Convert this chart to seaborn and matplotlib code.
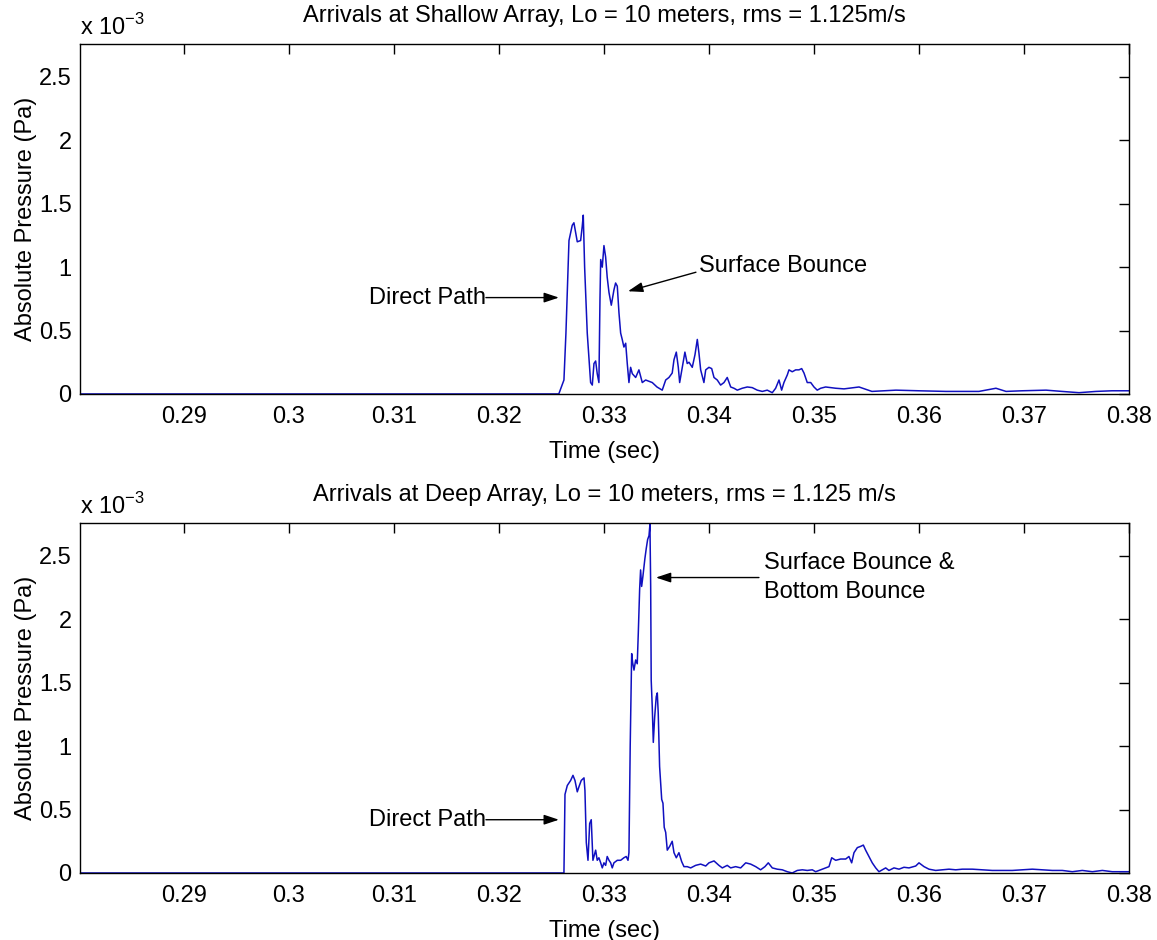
import matplotlib
matplotlib.use("Agg")
import matplotlib.pyplot as plt
import seaborn as sns
import pandas as pd

# ---------------- data (pressure in units of 1e-3 Pa) ----------------
shallow_t = [0.2801, 0.3000, 0.3200, 0.3257, 0.32619, 0.32638, 0.32667, 0.32698, 0.32714,
             0.32746, 0.32778, 0.32793, 0.32803, 0.32816, 0.32841, 0.32873, 0.32889,
             0.32905, 0.32921, 0.32936, 0.32952, 0.32962, 0.32969, 0.32984, 0.33000,
             0.33016, 0.33031, 0.33048, 0.33070, 0.33095, 0.33111, 0.33127, 0.33143,
             0.33159, 0.33174, 0.33190, 0.33207, 0.33222, 0.33238, 0.33254, 0.33270,
             0.33302, 0.33333, 0.33365, 0.33397, 0.33460, 0.33505, 0.33555, 0.33588,
             0.33619, 0.33650, 0.33667, 0.33689, 0.33708, 0.33721, 0.33746, 0.33771,
             0.33793, 0.33810, 0.33841, 0.33867, 0.33889, 0.33905, 0.33921, 0.33952,
             0.33969, 0.34000, 0.34026, 0.34048, 0.34079, 0.34111, 0.34143, 0.34174,
             0.34207, 0.34238, 0.34270, 0.34317, 0.34365, 0.34412, 0.34460, 0.34508,
             0.34555, 0.34603, 0.34635, 0.34667, 0.34692, 0.34714, 0.34746, 0.34762,
             0.34793, 0.34826, 0.34857, 0.34883, 0.34905, 0.34936, 0.34969, 0.35000,
             0.35031, 0.35064, 0.35111, 0.35159, 0.35207, 0.35286, 0.35429, 0.35552,
             0.35781, 0.36000, 0.36257, 0.36571, 0.36733, 0.36829, 0.36981, 0.37210,
             0.37362, 0.37524, 0.37686, 0.37838, 0.38000]
shallow_p = [0.0, 0.0, 0.0, 0.0, 0.11, 0.48, 1.21, 1.33, 1.35,
             1.20, 1.21, 1.32, 1.41, 1.00, 0.48, 0.09, 0.07,
             0.24, 0.26, 0.16, 0.09, 0.74, 1.06, 1.00, 1.17,
             1.08, 0.92, 0.80, 0.70, 0.82, 0.875, 0.85, 0.64,
             0.48, 0.43, 0.37, 0.40, 0.24, 0.09, 0.21, 0.16,
             0.13, 0.19, 0.09, 0.11, 0.09, 0.055, 0.03, 0.11,
             0.13, 0.165, 0.27, 0.33, 0.21, 0.09, 0.21, 0.33,
             0.24, 0.25, 0.21, 0.31, 0.43, 0.32, 0.19, 0.09,
             0.19, 0.21, 0.20, 0.13, 0.11, 0.07, 0.09, 0.13,
             0.055, 0.045, 0.03, 0.045, 0.055, 0.05, 0.03, 0.02,
             0.03, 0.01, 0.045, 0.11, 0.03, 0.09, 0.15, 0.19,
             0.175, 0.19, 0.19, 0.20, 0.165, 0.09, 0.09, 0.055,
             0.03, 0.045, 0.055, 0.05, 0.045, 0.04, 0.055, 0.02,
             0.03, 0.025, 0.02, 0.02, 0.045, 0.02, 0.025, 0.03,
             0.02, 0.01, 0.02, 0.025, 0.025]

deep_t = [0.2801, 0.3000, 0.3200, 0.32619, 0.32624, 0.32629, 0.32651, 0.32683, 0.32705,
          0.32724, 0.32746, 0.32762, 0.32784, 0.32810, 0.32819, 0.32832, 0.32848,
          0.32864, 0.32879, 0.32895, 0.32921, 0.32936, 0.32952, 0.32969, 0.32984,
          0.33000, 0.33016, 0.33031, 0.33048, 0.33064, 0.33079, 0.33095, 0.33127,
          0.33159, 0.33190, 0.33212, 0.33229, 0.33238, 0.33250, 0.33264, 0.33273,
          0.33286, 0.33302, 0.33317, 0.33327, 0.33340, 0.33349, 0.33359, 0.33371,
          0.33390, 0.33403, 0.33416, 0.33429, 0.33438, 0.33445, 0.33450, 0.33460,
          0.33470, 0.33483, 0.33498, 0.33508, 0.33517, 0.33530, 0.33550, 0.33562,
          0.33574, 0.33588, 0.33603, 0.33626, 0.33650, 0.33667, 0.33689, 0.33714,
          0.33740, 0.33762, 0.33793, 0.33826, 0.33873, 0.33921, 0.33969, 0.34000,
          0.34048, 0.34095, 0.34127, 0.34174, 0.34207, 0.34254, 0.34302, 0.34350,
          0.34397, 0.34445, 0.34492, 0.34533, 0.34565, 0.34603, 0.34650, 0.34698,
          0.34746, 0.34793, 0.34841, 0.34889, 0.34936, 0.34984, 0.35016, 0.35064,
          0.35111, 0.35143, 0.35169, 0.35207, 0.35254, 0.35302, 0.35333, 0.35359,
          0.35381, 0.35413, 0.35445, 0.35470, 0.35492, 0.35524, 0.35555, 0.35588,
          0.35619, 0.35650, 0.35683, 0.35714, 0.35762, 0.35810, 0.35857, 0.35905,
          0.35969, 0.36000, 0.36048, 0.36095, 0.36159, 0.36222, 0.36286, 0.36350,
          0.36413, 0.36508, 0.36603, 0.36698, 0.36794, 0.36889, 0.36984, 0.37079,
          0.37175, 0.37270, 0.37365, 0.37460, 0.37555, 0.37651, 0.37746, 0.37841,
          0.37984, 0.38000]
deep_p = [0.0, 0.0, 0.0, 0.0, 0.30, 0.62, 0.69, 0.73, 0.77,
          0.73, 0.64, 0.68, 0.73, 0.75, 0.65, 0.24, 0.10,
          0.39, 0.42, 0.10, 0.18, 0.10, 0.12, 0.08, 0.04,
          0.08, 0.06, 0.13, 0.10, 0.08, 0.04, 0.08, 0.10,
          0.10, 0.12, 0.13, 0.10, 0.16, 1.00, 1.73, 1.66,
          1.60, 1.68, 1.65, 1.89, 2.24, 2.39, 2.26, 2.34,
          2.48, 2.56, 2.63, 2.66, 2.75, 2.26, 1.52, 1.31,
          1.03, 1.23, 1.39, 1.42, 1.26, 0.84, 0.58, 0.55,
          0.36, 0.32, 0.18, 0.21, 0.25, 0.16, 0.12, 0.16,
          0.09, 0.05, 0.05, 0.04, 0.06, 0.07, 0.055, 0.08,
          0.095, 0.06, 0.04, 0.06, 0.04, 0.05, 0.04, 0.08,
          0.07, 0.05, 0.025, 0.05, 0.08, 0.04, 0.03, 0.025,
          0.01, 0.0, 0.02, 0.025, 0.02, 0.025, 0.01, 0.025,
          0.04, 0.05, 0.12, 0.10, 0.11, 0.11, 0.13, 0.08,
          0.16, 0.20, 0.21, 0.22, 0.18, 0.13, 0.08, 0.04,
          0.01, 0.025, 0.04, 0.02, 0.04, 0.03, 0.045, 0.04,
          0.055, 0.08, 0.05, 0.03, 0.02, 0.025, 0.03, 0.025,
          0.03, 0.03, 0.025, 0.02, 0.02, 0.02, 0.025, 0.03,
          0.025, 0.02, 0.02, 0.01, 0.02, 0.01, 0.02, 0.01,
          0.01, 0.01]

x_ticks = [0.29, 0.30, 0.31, 0.32, 0.33, 0.34, 0.35, 0.36, 0.37, 0.38]
x_tick_labels = ["0.29", "0.3", "0.31", "0.32", "0.33", "0.34", "0.35", "0.36", "0.37", "0.38"]
y_ticks = [0, 0.5, 1.0, 1.5, 2.0, 2.5]
y_tick_labels = ["0", "0.5", "1", "1.5", "2", "2.5"]

titles = ["Arrivals at Shallow Array, Lo = 10 meters, rms = 1.125m/s",
          "Arrivals at Deep Array, Lo = 10 meters, rms = 1.125 m/s"]

# ---------------- style ----------------
sns.set_style("white")
plt.rcParams["font.family"] = ["Liberation Sans", "DejaVu Sans"]
plt.rcParams["mathtext.fontset"] = "custom"
plt.rcParams["mathtext.rm"] = "Liberation Sans"
plt.rcParams["text.color"] = "black"
plt.rcParams["axes.labelcolor"] = "black"
plt.rcParams["axes.titlecolor"] = "black"
FS = 17

fig = plt.figure(figsize=(11.57, 9.40), dpi=100)
ax1 = fig.add_axes([0.0691, 0.5809, 0.9067, 0.3723])
ax2 = fig.add_axes([0.0691, 0.0713, 0.9067, 0.3723])

line_color = "#1010c0"
df1 = pd.DataFrame({"t": shallow_t, "p": shallow_p})
df2 = pd.DataFrame({"t": deep_t, "p": deep_p})

for ax, df, title in [(ax1, df1, titles[0]), (ax2, df2, titles[1])]:
    sns.lineplot(data=df, x="t", y="p", ax=ax, color=line_color, linewidth=1.1,
                 estimator=None, sort=False)
    ax.set_xlim(0.2801, 0.38)
    ax.set_ylim(0, 2.76)
    ax.set_xticks(x_ticks)
    ax.set_xticklabels(x_tick_labels)
    ax.set_yticks(y_ticks)
    ax.set_yticklabels(y_tick_labels)
    ax.tick_params(direction="in", length=7, width=1.0, labelsize=FS, pad=6,
                   top=True, right=True, colors="black")
    ax.tick_params(axis="x", pad=9)
    for s in ax.spines.values():
        s.set_visible(True)
        s.set_color("black")
        s.set_linewidth(1.0)
    ax.set_xlabel("Time (sec)", fontsize=FS, labelpad=9)
    ax.set_ylabel("Absolute Pressure (Pa)", fontsize=FS, labelpad=1)
    ax.set_title(title, fontsize=FS, pad=16)
    ax.text(0.0, 1.012, r"x 10$^{\mathregular{-3}}$", transform=ax.transAxes,
            ha="left", va="bottom", fontsize=FS)

arrow = dict(arrowstyle="-|>,head_length=0.9,head_width=0.3", color="black",
             lw=1.0, shrinkA=0, shrinkB=0)

ax1.annotate("", xy=(0.32571, 0.76), xytext=(0.31876, 0.76), arrowprops=arrow)
ax1.text(0.31876, 0.76, "Direct Path", fontsize=FS, ha="right", va="center")
ax1.annotate("", xy=(0.33229, 0.81), xytext=(0.33876, 0.96), arrowprops=arrow)
ax1.text(0.33905, 1.01, "Surface Bounce", fontsize=FS, ha="left", va="center")

ax2.annotate("", xy=(0.32571, 0.42), xytext=(0.31876, 0.42), arrowprops=arrow)
ax2.text(0.31876, 0.42, "Direct Path", fontsize=FS, ha="right", va="center")
ax2.annotate("", xy=(0.33495, 2.33), xytext=(0.34476, 2.33), arrowprops=arrow)
ax2.text(0.34524, 2.33, "Surface Bounce &\nBottom Bounce", fontsize=FS,
         ha="left", va="center", linespacing=1.45)

fig.savefig("out.png", dpi=100)
